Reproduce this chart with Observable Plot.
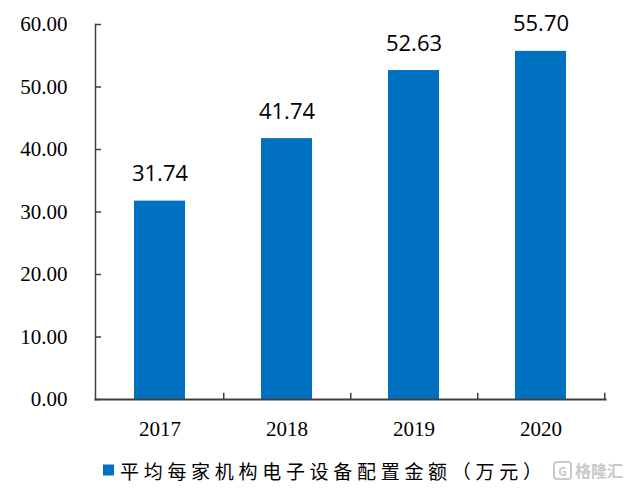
<!DOCTYPE html>
<html>
<head>
<meta charset="utf-8">
<script src="https://cdn.jsdelivr.net/npm/d3@7"></script>
<script src="https://cdn.jsdelivr.net/npm/@observablehq/plot@0.6"></script>
<style>
  body { margin: 0; background: #fff; }
  #wrap { width: 627px; position: relative; }
  #legend { height: 44px; position: relative; font-family: "Noto Sans CJK SC", sans-serif; }
  #legend .item { position: absolute; left: 103px; top: 21px; transform: translateY(-50%); display: flex; align-items: center; font-size: 19px; letter-spacing: 4.7px; color: #000; }
  #legend .sw { width: 11px; height: 11px; background: #0070C0; margin-right: 6px; }
  #legend .wm { position: absolute; left: 553px; top: 21px; transform: translateY(-50%); font-size: 16px; color: #c8c8c8; display: flex; align-items: center; font-weight: bold; }
  #legend .wm .g { border: 2px solid #c8c8c8; border-radius: 4px; width: 15px; height: 15px; font-size: 12px; line-height: 15px; text-align: center; margin-right: 3px; }
</style>
</head>
<body>
<div id="wrap"></div>
<script>
const years = ["2017", "2018", "2019", "2020"];
const values = [31.74, 41.74, 52.63, 55.70];
const yTicks = [0, 10, 20, 30, 40, 50, 60];
const seriesName = "平均每家机构电子设备配置金额（万元）";

const data = years.map((y, i) => ({year: y, value: values[i]}));
const blue = "#0070C0";
const axisColor = "#404040";

const chart = Plot.plot({
  width: 627,
  height: 449,
  marginLeft: 95,
  marginRight: 22,
  marginTop: 24,
  marginBottom: 50,
  style: {fontFamily: "'Liberation Serif', serif", background: "#fff", color: "#000"},
  x: {domain: years, paddingInner: 0.6, paddingOuter: 0.3, axis: null, label: null},
  y: {domain: [0, 60], axis: null, label: null},
  marks: [
    Plot.barY(data, {x: "year", y: "value", fill: blue}),
    Plot.text(data, {x: "year", y: "value", text: d => d3.format(".2f")(d.value), dy: -27, fontSize: 22, fontFamily: "'Open Sans', sans-serif", fill: "#000"}),
    Plot.axisY({ticks: yTicks, tickSize: 0, tickPadding: 28, tickFormat: d3.format(".2f"), fontSize: 21, label: null, color: "#000"}),
    Plot.axisY({ticks: yTicks, tickSize: -6, tickFormat: () => "", label: null, stroke: axisColor, strokeWidth: 1.5}),
    Plot.axisX({tickSize: 0, tickPadding: 22, fontSize: 21, label: null, color: "#000"}),
    Plot.ruleX(years, {x: d => d, dx: 63.75, y1: 0, y2: 1, stroke: axisColor, strokeWidth: 1.5}),
    Plot.frame({anchor: "left", stroke: axisColor, strokeWidth: 1.5}),
    Plot.frame({anchor: "bottom", stroke: axisColor, strokeWidth: 2})
  ]
});
chart.style.display = "block";
const wrap = document.getElementById("wrap");
wrap.appendChild(chart);

const legend = document.createElement("div");
legend.id = "legend";
legend.innerHTML = `<div class="item"><div class="sw"></div><span>${seriesName}</span></div><div class="wm"><div class="g">G</div>格隆汇</div>`;
wrap.appendChild(legend);
</script>
</body>
</html>
